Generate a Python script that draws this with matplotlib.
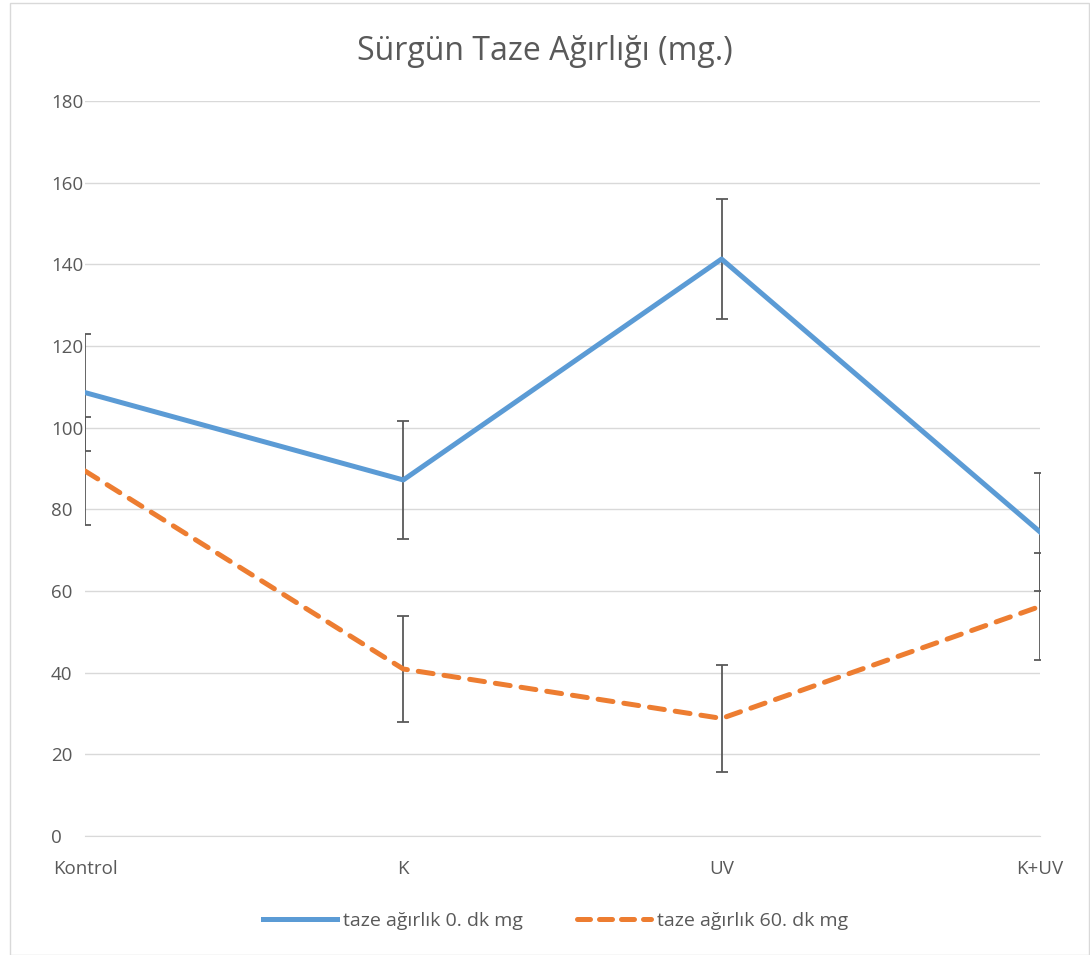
import matplotlib.pyplot as plt
from matplotlib.patches import Rectangle
from matplotlib.lines import Line2D

plt.rcParams['font.family'] = ['Open Sans', 'DejaVu Sans']

# veriler
kategoriler = ['Kontrol', 'K', 'UV', 'K+UV']
agirlik_0dk = [108.6, 87.2, 141.3, 74.5]
hata_0dk = [14.4, 14.5, 14.6, 14.5]
agirlik_60dk = [89.4, 40.9, 28.8, 56.2]
hata_60dk = [13.2, 13.0, 13.1, 13.0]
etiketler = ['taze ağırlık 0. dk mg', 'taze ağırlık 60. dk mg']

mavi = '#5B9BD5'
turuncu = '#ED7D31'
gri = '#595959'
kesik = (0, (3, 2.2))

fig = plt.figure(figsize=(10.9, 9.55), dpi=100)
ax = fig.add_axes([0.078, 0.1246, 0.876, 0.7696])

x = list(range(len(kategoriler)))
ax.errorbar(x, agirlik_0dk, yerr=hata_0dk, color=mavi, lw=3.6, ecolor=gri,
            elinewidth=1.3, capsize=4, capthick=1.3, zorder=3)
ax.errorbar(x, agirlik_60dk, yerr=hata_60dk, color=turuncu, lw=3.6, ls=kesik,
            ecolor=gri, elinewidth=1.3, capsize=4, capthick=1.3,
            dash_capstyle='round', zorder=3)

ax.set_xlim(0, 3)
ax.set_ylim(0, 180)
ax.set_yticks(range(0, 181, 20))
ax.set_xticks(x)
ax.set_xticklabels(kategoriler)
ax.grid(axis='y', color='#D9D9D9', lw=1)
ax.set_axisbelow(True)
for s in ['top', 'right', 'left']:
    ax.spines[s].set_visible(False)
ax.spines['bottom'].set_color('#D9D9D9')
ax.tick_params(axis='both', length=0, labelsize=13.5, labelcolor=gri)
ax.tick_params(axis='x', pad=17)
ax.tick_params(axis='y', pad=24.5)
for lbl in ax.get_yticklabels():
    lbl.set_horizontalalignment('left')

fig.text(0.5, 0.946, 'Sürgün Taze Ağırlığı (mg.)', ha='center', va='center',
         fontsize=23, color=gri)

tutamaclar = [Line2D([], [], color=mavi, lw=3.6),
              Line2D([], [], color=turuncu, lw=3.6, ls=(0, (2.6, 1.8)), dash_capstyle='round')]
leg = fig.legend(tutamaclar, etiketler, loc='center', bbox_to_anchor=(0.51, 0.036), ncol=2,
                 frameon=False, fontsize=14, handlelength=3.8, columnspacing=2.8,
                 handletextpad=0.3)
for t in leg.get_texts():
    t.set_color(gri)

fig.patches.append(Rectangle((0.009, 0.0), 0.99, 0.997, transform=fig.transFigure,
                             fill=False, edgecolor='#D9D9D9', lw=1))

fig.savefig('out.png', dpi=100)
